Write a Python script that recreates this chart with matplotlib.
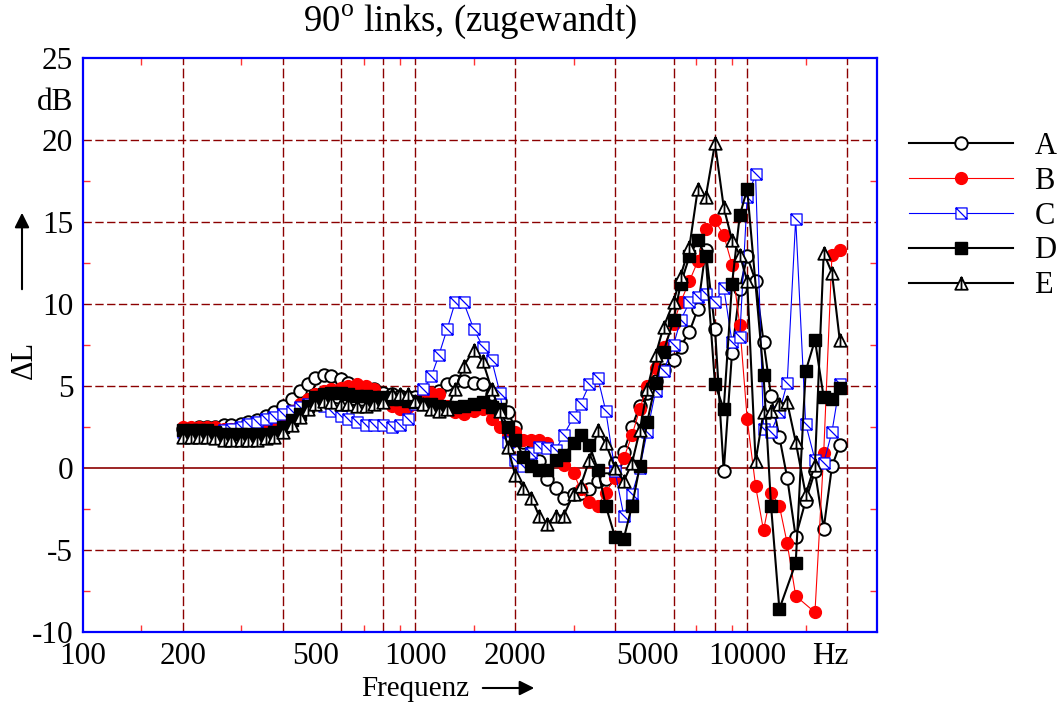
import matplotlib
matplotlib.use("Agg")
import matplotlib.pyplot as plt
from matplotlib.path import Path
from matplotlib.patches import FancyArrowPatch
from matplotlib.ticker import NullFormatter

plt.rcParams["font.family"] = "Liberation Serif"
plt.rcParams["mathtext.fontset"] = "custom"
plt.rcParams["mathtext.rm"] = "Liberation Serif"

# 1/12-octave band centres, 200 Hz ... 19 kHz
freqs = [200, 212, 224, 236, 250, 265, 280, 300, 315, 335, 355, 375, 400, 425,
         450, 475, 500, 530, 560, 600, 630, 670, 710, 750, 800, 850, 900, 950,
         1000, 1060, 1120, 1180, 1250, 1320, 1400, 1500, 1600, 1700, 1800, 1900,
         2000, 2120, 2240, 2360, 2500, 2650, 2800, 3000, 3150, 3350, 3550, 3750,
         4000, 4250, 4500, 4750, 5000, 5300, 5600, 6000, 6300, 6700, 7100, 7500,
         8000, 8500, 9000, 9500, 10000, 10600, 11200, 11800, 12500, 13200, 14000,
         15000, 16000, 17000, 18000, 19000]

dl_a = [2.4, 2.4, 2.5, 2.5, 2.5, 2.6, 2.6, 2.7,
        2.8, 2.9, 3.2, 3.4, 3.8, 4.2, 4.7, 5.1,
        5.5, 5.7, 5.6, 5.4, 5.2, 5.0, 4.9, 4.8,
        4.6, 4.5, 4.4, 4.3, 4.3, 4.3, 4.4, 4.7,
        5.1, 5.3, 5.3, 5.2, 5.1, 4.5, 4.1, 3.4,
        2.5, 1.6, 1.0, 0.4, -0.7, -1.2, -1.8, -1.6,
        -1.5, -1.3, -0.8, -0.7, 0.3, 1.0, 2.5, 3.8,
        4.6, 5.3, 6.0, 6.6, 7.4, 8.3, 9.7, 13.3,
        8.5, -0.2, 7.0, 10.9, 12.9, 11.4, 7.7, 4.4,
        1.9, -0.6, -4.2, -2.0, -0.2, -3.7, 0.1, 1.4]

dl_b = [2.5, 2.5, 2.5, 2.5, 2.5, 2.4, 2.4, 2.4,
        2.4, 2.5, 2.6, 2.9, 3.2, 3.5, 3.9, 4.2,
        4.5, 4.7, 4.8, 4.9, 5.0, 5.1, 5.0, 4.8,
        4.3, 3.8, 3.6, 3.7, 3.9, 4.3, 4.6, 4.5,
        3.8, 3.4, 3.3, 3.5, 3.6, 3.0, 2.5, 2.0,
        2.2, 1.7, 1.7, 1.7, 1.5, 0.8, 0.2, -0.3,
        -1.3, -2.1, -2.3, -1.5, -0.6, 0.6, 2.0, 3.6,
        5.0, 6.1, 7.4, 8.8, 10.1, 11.4, 12.6, 14.6,
        15.1, 14.2, 12.4, 8.7, 3.0, -1.1, -3.8, -1.5,
        -2.3, -4.6, -7.8, None, -8.8, 0.9, 13.0, 13.3]

dl_c = [2.2, 2.2, 2.2, 2.2, 2.2, 2.3, 2.4, 2.5,
        2.7, 2.8, 3.0, 3.1, 3.3, 3.5, 3.7, 3.9,
        4.0, 3.8, 3.5, 3.2, 3.0, 2.8, 2.6, 2.6,
        2.6, 2.5, 2.6, 3.0, 3.9, 4.8, 5.6, 6.9,
        8.5, 10.1, 10.1, 8.5, 7.4, 6.6, 4.6, 1.6,
        0.5, 0.1, 0.9, 1.3, 1.2, 1.1, 2.0, 3.1,
        3.9, 5.1, 5.5, 3.5, -0.2, -2.9, -1.6, 0.0,
        2.2, 4.7, 5.9, 7.5, 9.0, 10.1, 10.4, 10.6,
        10.1, 11.0, 7.7, 8.0, 16.5, 17.9, 2.4, 2.2,
        3.4, 5.2, 15.2, 2.7, 0.5, 0.3, 2.2, 5.1]

dl_d = [2.3, 2.3, 2.3, 2.3, 2.2, 2.1, 2.1, 2.1,
        2.1, 2.1, 2.1, 2.2, 2.5, 2.9, 3.3, 3.8,
        4.3, 4.5, 4.6, 4.6, 4.5, 4.4, 4.4, 4.3,
        4.3, 4.2, 4.2, 4.1, 4.0, 3.9, 3.9, 3.8,
        3.7, 3.7, 3.8, 3.9, 4.0, 3.7, 3.6, 2.5,
        1.7, 0.7, 0.1, -0.1, -0.1, 0.5, 0.8, 1.5,
        2.0, 1.4, -0.1, -2.3, -4.2, -4.3, -2.3, 0.1,
        2.8, 5.2, 7.1, 9.0, 11.2, 12.9, 13.9, 12.9,
        5.1, 3.6, 11.2, 15.4, 17.0, None, 5.7, -2.3,
        -8.6, None, -5.8, 5.9, 7.8, 4.3, 4.2, 4.9]

dl_e = [1.9, 1.9, 1.9, 1.9, 1.8, 1.7, 1.7, 1.7,
        1.7, 1.7, 1.8, 1.9, 2.2, 2.6, 3.1, 3.6,
        3.9, 4.1, 4.0, 3.9, 3.9, 3.8, 3.8, 3.9,
        4.0, 4.5, 4.5, 4.5, 4.1, 3.9, 3.6, 3.5,
        3.6, 4.8, 6.2, 7.2, 6.5, 4.8, 3.5, 1.3,
        -0.4, -1.2, -1.8, -2.9, -3.4, -2.9, -2.9, -1.6,
        -1.1, 0.5, 2.3, 1.5, 0.0, -0.8, 0.3, 2.3,
        4.8, 6.9, 8.6, 10.1, 11.7, 13.5, 17.0, 16.5,
        19.8, 15.9, 13.9, 13.0, 11.4, 0.4, 3.4, 3.5,
        3.9, 4.0, 1.6, -1.6, 0.2, 13.1, 11.9, 7.8]

x_ticks = [100, 200, 500, 1000, 2000, 5000, 10000, 17800]
x_labels = ["100", "200", "500", "1000", "2000", "5000", "10000", "Hz"]
y_ticks = [-10, -5, 0, 5, 10, 15, 20, 22.5, 25]
y_labels = ["-10", "-5", "0", "5", "10", "15", "20", "dB", "25"]
x_grid = [200, 400, 600, 800, 1000, 2000, 4000, 6000, 8000, 10000, 20000]
x_minor = [150, 300, 500, 700, 900, 1500, 3000, 5000, 7000, 9000, 15000]
y_grid = [-5, 5, 10, 15, 20]
y_minor = [-7.5, -2.5, 2.5, 7.5, 12.5, 17.5, 22.5]

# marker shapes: square with diagonal, triangle with centre line
sq_diag = Path([(-1, -1), (1, -1), (1, 1), (-1, 1), (-1, -1), (-1, 1), (1, -1)],
               [Path.MOVETO, Path.LINETO, Path.LINETO, Path.LINETO,
                Path.CLOSEPOLY, Path.MOVETO, Path.LINETO])
tri_line = Path([(0, 1), (-1, -1), (1, -1), (0, 1), (0, 1), (0, -1)],
                [Path.MOVETO, Path.LINETO, Path.LINETO, Path.CLOSEPOLY,
                 Path.MOVETO, Path.LINETO])

W, H = 1062, 706
fig = plt.figure(figsize=(W / 100, H / 100), dpi=100)
ax = fig.add_axes([83 / W, 1 - 632 / H, (877 - 83) / W, (632 - 58) / H])

ax.set_xscale("log")
ax.set_xlim(100, 24600)
ax.set_ylim(-10, 25)

grid_col = "#8b0000"
for gx in x_grid:
    ax.axvline(gx, color=grid_col, lw=1.0, dashes=(7, 2.5), zorder=1)
for gy in y_grid:
    ax.axhline(gy, color=grid_col, lw=1.0, dashes=(6, 2.5), zorder=1)
ax.axhline(0, color=grid_col, lw=1.2, zorder=1)


def plot_series(vals, **kw):
    pts = [(f, v) for f, v in zip(freqs, vals) if v is not None]
    xs = [p[0] for p in pts]
    ys = [p[1] for p in pts]
    return ax.plot(xs, ys, zorder=3, **kw)[0]


la = plot_series(dl_a, color="black", lw=1.5, marker="o", ms=9,
                 mfc="white", mec="black", mew=1.4, label="A")
lb = plot_series(dl_b, color="red", lw=0.8, marker="o", ms=8.5,
                 mfc="red", mec="red", label="B")
lc = plot_series(dl_c, color="blue", lw=0.8, marker=sq_diag, ms=8,
                 mfc="white", mec="blue", mew=0.9, label="C")
ld = plot_series(dl_d, color="black", lw=1.5, marker="s", ms=8.5,
                 mfc="black", mec="black", label="D")
le = plot_series(dl_e, color="black", lw=1.5, marker=tri_line, ms=9,
                 mfc="white", mec="black", mew=1.3, label="E")

for s in ax.spines.values():
    s.set_color("blue")
    s.set_linewidth(1.6)
    s.set_zorder(5)

ax.set_xticks(x_ticks)
ax.set_xticklabels(x_labels)
ax.set_xticks(x_minor, minor=True)
ax.xaxis.set_minor_formatter(NullFormatter())
ax.set_yticks(y_ticks)
ax.set_yticklabels(y_labels)
ax.set_yticks(y_minor, minor=True)
ax.yaxis.set_minor_formatter(NullFormatter())
ax.tick_params(which="major", length=0, labelsize=22.5, pad=7)
ax.tick_params(axis="y", which="major", pad=7)
ax.tick_params(which="minor", direction="in", length=5, width=1,
               color="#ff3333", top=True, right=True)

fig.suptitle("90$^{\\rm o}$ links, (zugewandt)", x=470 / W, y=1 - 22 / H,
             va="center", fontsize=26.5)

fig.text(415 / W, 1 - 689 / H, "Frequenz", ha="center", va="center", fontsize=21)
fig.add_artist(FancyArrowPatch(
    (480 / W, 1 - 688 / H), (537 / W, 1 - 688 / H), transform=fig.transFigure,
    arrowstyle="-|>", mutation_scale=22, color="black", lw=1.5))
fig.text(24 / W, 1 - 360 / H, "\u0394L", rotation=90, ha="center",
         va="center", fontsize=22)
fig.add_artist(FancyArrowPatch(
    (22 / W, 1 - 292 / H), (22 / W, 1 - 210 / H), transform=fig.transFigure,
    arrowstyle="-|>", mutation_scale=22, color="black", lw=1.5))

fig.legend(handles=[la, lb, lc, ld, le], loc="upper left",
           bbox_to_anchor=(909 / W, 1 - 132 / H), frameon=False,
           fontsize=22, handlelength=3.4, handletextpad=0.7,
           labelspacing=0.19, borderpad=0, borderaxespad=0)

fig.savefig("out.png", dpi=100)
